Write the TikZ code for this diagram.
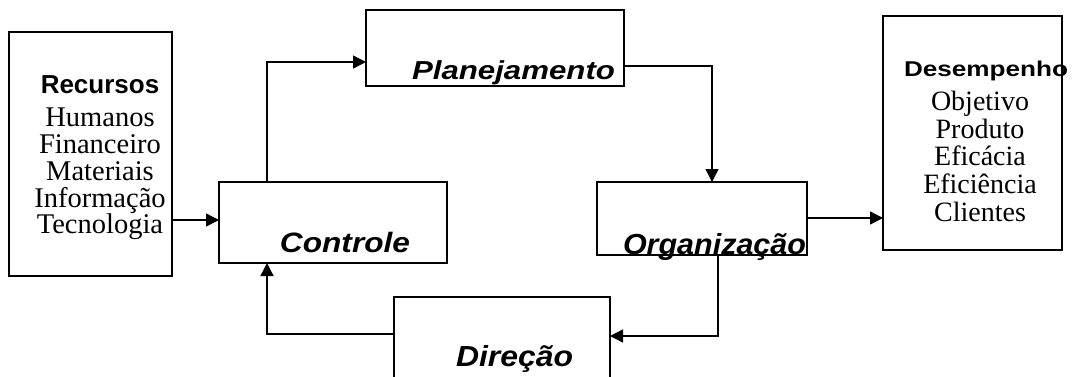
\documentclass[tikz,border=0pt]{standalone}
\usepackage{fontspec}
\setmainfont{Liberation Serif}
\setsansfont{Liberation Sans}
\usetikzlibrary{arrows.meta}

% stretch a text horizontally to a given width, keeping its height
\newcommand\stretchto[2]{\resizebox{#1}{\height}{#2}}

\begin{document}
\begin{tikzpicture}[x=1pt, y=-1pt,
  box/.style={draw, line width=1.6pt, inner sep=0pt, outer sep=0pt},
  flow/.style={line width=1.4pt, -{Triangle[length=13pt,width=13pt]}},
  head/.style={anchor=base, inner sep=0pt, font=\sffamily\bfseries\fontsize{26}{26}\selectfont},
  stage/.style={anchor=base, inner sep=0pt},
  item/.style={anchor=base, inner sep=0pt, font=\rmfamily\fontsize{28.5}{28.5}\selectfont}]

\clip (0,0) rectangle (1072,376);
\fill[white] (0,0) rectangle (1072,376);

% boxes
\node[box, minimum width=163pt, minimum height=244pt] (rec) at (90.5,154) {};
\node[box, minimum width=228pt, minimum height=81pt]  (ctl) at (333,222.5) {};
\node[box, minimum width=258pt, minimum height=76pt]  (pla) at (495,48) {};
\node[box, minimum width=210pt, minimum height=73pt]  (org) at (702,218.5) {};
\node[box, minimum width=179pt, minimum height=234pt] (des) at (972.5,133) {};
\node[box, minimum width=216pt, minimum height=106pt] (dir) at (502,350) {};

% resources column
\node[head] (recT) at (100,93.5) {Recursos};
\foreach \t [count=\i] in {Humanos,Financeiro,Materiais,Informação,Tecnologia}
  \node[item] (rec\i) at (100,{126.7+26.8*(\i-1)}) {\t};

% performance column
\node[stage] (desT) at (986,76)
  {\stretchto{164pt}{\sffamily\bfseries\fontsize{21.4}{21.4}\selectfont Desempenho}};
\foreach \t [count=\i] in {Objetivo,Produto,Eficácia,Eficiência,Clientes}
  \node[item, font=\rmfamily\fontsize{28}{28}\selectfont] (des\i) at (980,{110.7+27.6*(\i-1)}) {\t};

% management functions
\node[stage] (plaT) at (513.5,79.3)
  {\stretchto{203pt}{\sffamily\bfseries\itshape\fontsize{26}{26}\selectfont Planejamento}};
\node[stage] (ctlT) at (345,252.5)
  {\stretchto{130pt}{\sffamily\bfseries\itshape\fontsize{28}{28}\selectfont Controle}};
\node[stage] (orgT) at (714.5,254)
  {\stretchto{183pt}{\sffamily\bfseries\itshape\fontsize{29}{29}\selectfont Organização}};
\node[stage] (dirT) at (514.5,366)
  {\stretchto{117pt}{\sffamily\bfseries\itshape\fontsize{29}{29}\selectfont Direção}};

% connectors
\draw[flow] (rec.east |- 0,220) -- (ctl.west |- 0,220);
\draw[flow] (ctl.north -| 267,0) |- (pla.west |- 0,62);
\draw[flow] (pla.east |- 0,66) -| (org.north -| 712,0);
\draw[flow] (org.east |- 0,218) -- (des.west |- 0,218);
\draw[flow] (org.south -| 718,0) |- (dir.east |- 0,336);
\draw[flow] (dir.west |- 0,334) -| (ctl.south -| 267,0);

\end{tikzpicture}
\end{document}
